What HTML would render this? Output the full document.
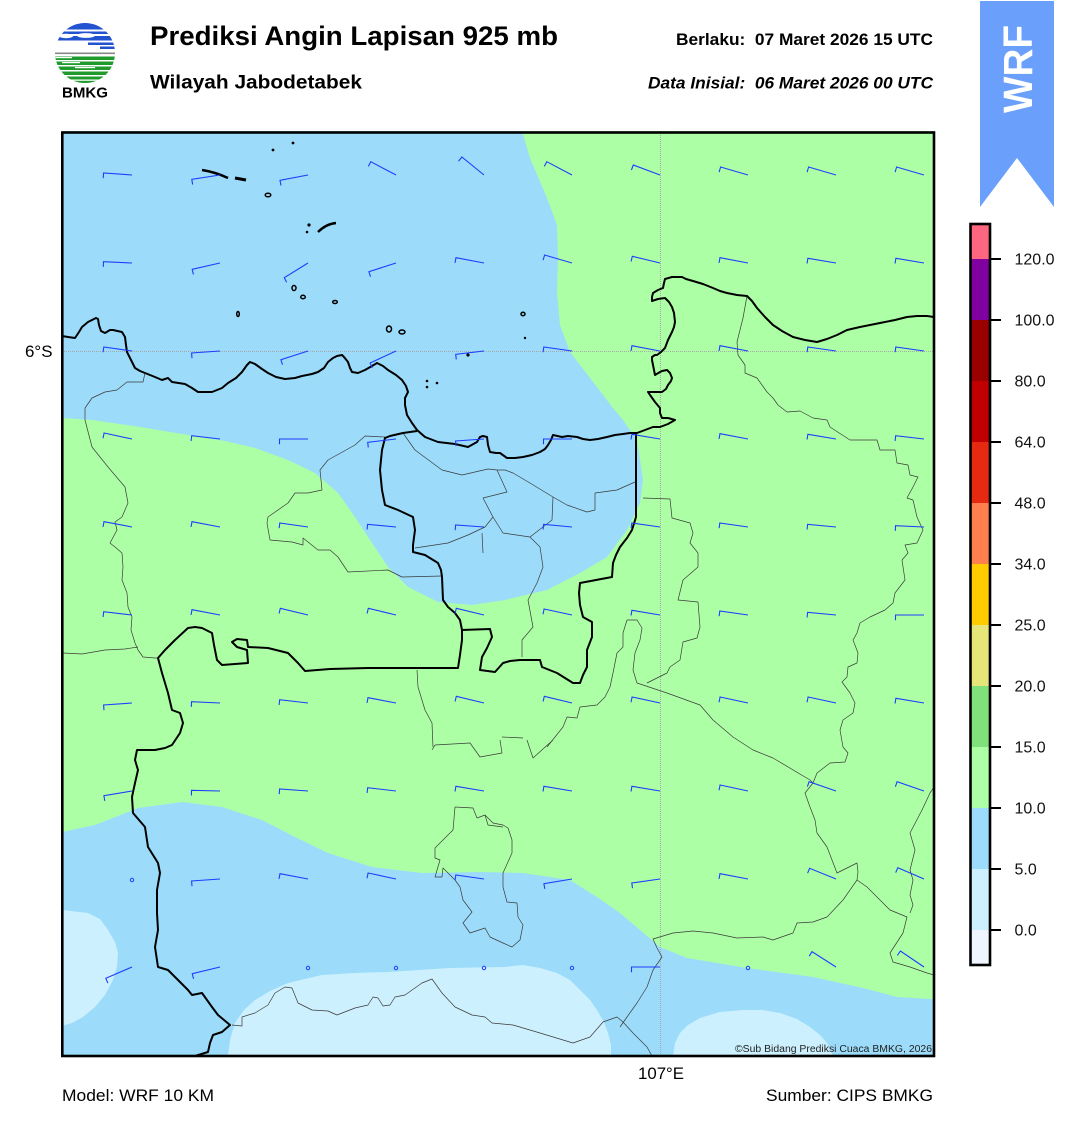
<!DOCTYPE html>
<html><head><meta charset="utf-8"><style>
html,body{margin:0;padding:0;background:#fff;}
svg{display:block;font-family:"Liberation Sans",Arial,sans-serif;}
</style></head><body>
<svg width="1081" height="1128" viewBox="0 0 1081 1128" xmlns="http://www.w3.org/2000/svg">
<rect width="1081" height="1128" fill="#fff"/>
<defs>
<clipPath id="lc"><circle cx="85" cy="53" r="30"/></clipPath>
<clipPath id="mc"><rect x="62" y="131" width="872" height="925"/></clipPath>
</defs>
<!-- Logo -->
<g clip-path="url(#lc)">
<rect x="50" y="20" width="70" height="9.5" fill="#2152d0"/>
<rect x="50" y="31.5" width="70" height="2.5" fill="#2152d0"/>
<rect x="50" y="36" width="70" height="4.5" fill="#2152d0"/>
<ellipse cx="66" cy="36" rx="7" ry="2.2" fill="#fff"/>
<ellipse cx="86" cy="35.5" rx="9" ry="2.4" fill="#fff"/>
<rect x="88" y="42.5" width="30" height="2.5" fill="#2152d0"/>
<rect x="100" y="46.5" width="20" height="2.5" fill="#2152d0"/>
<rect x="50" y="56.5" width="70" height="3.5" fill="#1f9a2c"/>
<rect x="50" y="61.5" width="70" height="3.5" fill="#1f9a2c"/>
<rect x="50" y="66.5" width="70" height="3.5" fill="#1f9a2c"/>
<rect x="50" y="71.5" width="70" height="3.5" fill="#1f9a2c"/>
<rect x="50" y="76.5" width="70" height="3" fill="#1f9a2c"/>
<rect x="50" y="80.8" width="70" height="3" fill="#1f9a2c"/>
<rect x="50" y="57" width="22" height="1.2" fill="#fff"/>
<rect x="62" y="62" width="18" height="1.2" fill="#fff"/>
<rect x="75" y="67" width="20" height="1.2" fill="#fff"/>
</g>
<rect x="55" y="52.5" width="60" height="1.6" fill="#888"/>
<text x="62" y="97.5" font-size="15" font-weight="bold" textLength="46" lengthAdjust="spacingAndGlyphs">BMKG</text>

<!-- Header texts -->
<text x="150" y="45" font-size="26.5" font-weight="bold" textLength="408" lengthAdjust="spacingAndGlyphs">Prediksi Angin Lapisan 925 mb</text>
<text x="150" y="88.3" font-size="19.5" font-weight="bold" textLength="212" lengthAdjust="spacingAndGlyphs">Wilayah Jabodetabek</text>
<text x="676" y="45" font-size="17" font-weight="bold" textLength="257" lengthAdjust="spacingAndGlyphs">Berlaku:&#160; 07 Maret 2026 15 UTC</text>
<text x="648" y="88.3" font-size="17" font-weight="bold" font-style="italic" textLength="285" lengthAdjust="spacingAndGlyphs">Data Inisial:&#160; 06 Maret 2026 00 UTC</text>

<!-- WRF banner -->
<polygon points="980,1 1054,1 1054,207 1017,158 980,207" fill="#6aa0fc"/>
<text transform="translate(1032,113) rotate(-90)" font-size="41" font-weight="bold" fill="#fff" textLength="88" lengthAdjust="spacingAndGlyphs">WRF</text>

<!-- Map -->
<g clip-path="url(#mc)">
<rect x="62" y="131" width="872" height="925" fill="#9cdcfa"/>
<polygon fill="#adffa5" points="522,131 934,131 934,999 930,999 897,997 863,988 813,977 747,968 687,958 660,947 640,930 620,913 597,897 570,880 523,873 480,872 422,873 372,867 328,853 295,837 262,820 222,807 182,802 138,808 95,825 62,832 62,418 92,420 140,427 188,435 225,441 255,448 288,460 315,473 338,493 355,517 372,543 388,567 408,587 438,602 472,605 505,600 547,590 580,573 607,557 627,530 640,503 643,480 637,440 623,420 613,408 590,378 570,352 560,325 557,292 558,258 557,225 547,198 530,158"/>
<polygon fill="#cdf0fe" points="62,910 88,913 100,919 108,930 115,942 118,953 117,967 113,980 105,995 95,1007 83,1017 72,1023 62,1026"/>
<polygon fill="#cdf0fe" points="228,1056 230,1040 235,1023 244,1010 255,1000 270,991 288,983 322,975 355,973 388,972 450,968 505,967 523,965 540,968 557,973 570,980 580,990 590,1000 597,1010 604,1022 608,1033 611,1045 611,1056"/>
<polygon fill="#cdf0fe" points="673,1056 675,1043 680,1033 688,1025 700,1018 720,1012 743,1010 762,1010 780,1013 797,1019 810,1027 820,1035 827,1043 833,1056"/>

<!-- grid lines -->
<line x1="62" y1="351.5" x2="934" y2="351.5" stroke="#a8a8a8" stroke-width="1" stroke-dasharray="1,1"/>
<line x1="660.5" y1="131" x2="660.5" y2="1056" stroke="#a8a8a8" stroke-width="1" stroke-dasharray="1,1"/>

<!-- thin admin boundaries -->
<g fill="none" stroke="#3a3a3a" stroke-width="0.7" stroke-linejoin="round">
<polyline points="145,373 143,382 127,382 117,390 105,392 92,398 85,408 85,420 92,447 108,467 125,487 128,503 122,517 115,522 117,530 110,543 115,547 122,553 123,567 122,580 127,593 128,607 132,617 131,630 135,643 138,650 143,657 155,658 158,658"/>
<polyline points="63,653 82,654 105,650 125,649 138,647"/>
<polyline points="385,437 365,436 355,445 328,460 320,470 322,490 308,493 295,493 288,503 268,517 267,523 270,540 292,542 303,545 303,538 308,542 318,550 330,550 338,557 348,572 388,570 402,577 442,576"/>
<polyline points="403,433 415,450 442,470 462,475 488,469 497,470 505,470 513,473 530,483 553,497 567,505 587,512 595,510 595,493 617,490 635,482"/>
<polyline points="497,470 507,492 483,498 493,517 485,527 468,535 448,543 415,548"/>
<polyline points="493,517 503,533 530,537 540,547 543,567 537,583 528,600 533,627 522,640 522,657"/>
<polyline points="553,497 552,520 530,537"/>
<polyline points="482,533 483,553"/>
<polyline points="643,498 670,499 672,518 690,523 693,533 690,543 698,553 698,567 683,580 678,600 698,602 700,627 697,638 683,642 680,660 670,667 667,673 647,683"/>
<polyline points="633,670 637,683 667,693 700,705 713,720 733,737 753,750 773,758 810,780 813,783"/>
<polyline points="747,296 743,318 737,342 738,355 745,365 745,373 757,378 767,392 773,398 778,405 787,412 800,411 813,418 827,420 830,427 850,440 877,440 880,450 895,450 897,463 908,465 910,475 918,477 913,487 907,498 913,500 917,517 923,530 917,543 905,545 908,553 902,560 905,580 895,593 893,603 885,610 870,617 860,623 857,633 853,640 858,653 857,663 848,667 847,677 842,682 850,693 855,703 853,713 843,720 840,730 843,747 848,753 845,762 830,763 817,773 813,783 805,793 810,807 815,820 817,833 827,847 837,873 857,863 858,872 857,880 843,900 827,917 813,922 797,923 793,933 773,940 763,937 737,938 713,933 693,931 673,933 653,939 657,948 662,957 653,970 647,987 637,1003 627,1017 620,1027"/>
<polyline points="857,880 867,887 890,910 907,917 903,933 890,953 893,962 910,967 927,973 934,975"/>
<polyline points="934,787 930,793 922,810 910,833 915,850 910,870 913,880 910,895 913,905 910,913"/>
<polyline points="232,1025 242,1026 242,1017 255,1013 268,1005 275,993 285,987 292,988 298,1003 312,1010 328,1011 337,1015 355,1008 368,1005 373,997 378,998 383,1006 390,1005 395,997 405,995 422,983 432,979 442,993 455,1007 472,1015 485,1017 492,1023 513,1025 540,1033 573,1043 590,1037 603,1022 617,1017 623,1022 633,1033 647,1047 652,1056"/>
<polyline points="432,750 435,745 470,743 480,757 502,753 500,740"/>
<polyline points="455,807 473,808 477,818 485,815 488,825 503,827"/>
<polyline points="455,807 453,830 435,848 435,858 440,860 435,877 442,877 443,868 455,880 460,887 463,900 472,912 463,923 470,933 485,928 490,937 503,943 512,947 520,940 523,925 518,917 517,903 507,902 503,887 503,873 512,853 512,840 508,828 503,825 493,823 485,815"/>
<polyline points="417,670 418,687 425,710 432,723 433,747"/>
<polyline points="627,620 637,620 642,628 640,640 635,653 633,670"/>
<polyline points="627,620 623,633 623,647 617,653 613,673 610,687 605,697 597,705 580,707 577,718 567,717 563,727 547,747"/>
<polyline points="502,737 523,738"/>
<polyline points="527,740 533,758 553,740"/>
</g>

<!-- thick coastline & provincial borders -->
<g fill="none" stroke="#000" stroke-width="2" stroke-linejoin="round">
<polyline points="62,336 68,337 75,338 79,332 82,327 88,322 92,320 96,318 98,319 99,325 101,331 105,333 110,330 113,330 122,332 125,337 126,345 127,352 131,360 135,368 140,371 145,373 155,377 162,380 168,378 172,382 185,384 192,388 198,392 212,392 222,388 228,383 236,378 242,372 247,365 250,362 255,364 262,369 268,373 276,377 285,379 295,378 302,376 312,374 318,372 324,368 328,362 333,358 337,356 342,355 344,357 348,362 350,368 352,372 358,373 365,370 372,366 377,363 383,366 388,370 396,375 402,380 406,386 408,392 405,398 405,405 407,415 412,423 417,430 425,437 438,442 455,444 468,447 477,442 480,437 483,436 487,437 488,445 490,452 496,453 500,453 507,458 515,458 523,457 532,455 540,452 545,449 548,445 551,440 553,435 562,437 568,436 577,437 583,439 590,440 598,439 607,437 615,435 623,434 630,433 637,433 645,430 653,427 660,427 668,424 675,420 668,418 662,418 660,413 660,408 655,402 650,395 648,392 655,392 662,392 666,389 668,385 671,381 672,378 670,373 667,370 662,371 660,372 655,375 654,370 653,365 652,360 652,357 655,355 657,355 661,352 665,348 668,340 672,332 674,327 675,322 674,313 672,307 669,302 665,298 658,299 652,301 652,297 653,293 658,290 663,288 664,283 665,279 672,277 682,277 686,279 693,281 703,284 713,288 720,291 727,293 737,295 747,296 752,301 757,308 765,317 773,325 782,331 793,337 805,340 817,342 827,339 837,335 847,330 860,327 870,325 880,323 895,320 907,317 917,316 927,316 934,317"/>
<polyline points="417,431 403,433 390,436 385,438 382,450 380,470 382,490 385,505 398,510 413,517 415,530 413,545 413,552 425,555 438,563 441,570 442,577 443,600 448,607 455,613 460,620 462,630"/>
<polyline points="462,630 490,629 492,637 487,648 482,657 480,670 495,672 503,663 510,661 520,660 540,660 542,667 557,673 573,683 580,683 583,675 587,667 587,650 592,637 592,622 583,617 580,605 579,593 580,583 596,580 612,577 613,563 616,555 620,547 627,538 632,530 636,517 636,433"/>
<polyline points="462,630 462,640 460,655 458,668 430,668 400,668 368,668 330,669 305,671 298,663 288,653 268,648 248,647 247,640 237,639 232,642 237,647 247,650 248,663 222,665 217,660 214,645 212,633 202,628 195,627 188,628 175,640 165,650 158,658 162,673 168,693 172,710 180,713 183,723 180,733 172,745 165,748 155,750 137,750 135,760 138,770 135,783 132,797 133,813 145,827 148,847 158,863 160,873 157,890 157,913 158,930 155,947 158,967 168,970 178,980 188,990 192,995 202,993 212,1007 218,1015 230,1025 222,1032 213,1035 210,1043 208,1052 195,1056"/>
</g>

<!-- islands -->
<g fill="none" stroke="#000" stroke-width="1.5">
<ellipse cx="268" cy="195" rx="2.8" ry="1.8"/>
<ellipse cx="294" cy="288" rx="2" ry="2.5"/>
<ellipse cx="303" cy="297" rx="2.3" ry="1.7"/>
<ellipse cx="335" cy="302" rx="2.3" ry="1.5"/>
<ellipse cx="238" cy="314" rx="1.3" ry="2.5"/>
<ellipse cx="389" cy="329" rx="2.5" ry="3"/>
<ellipse cx="402" cy="332" rx="3" ry="2"/>
<ellipse cx="523" cy="314" rx="2" ry="1.7"/>
<path d="M202 170 Q215 172 228 178" stroke-width="2.6"/>
<path d="M235 178 L246 180" stroke-width="3"/>
<path d="M318 232 Q326 224 336 223" stroke-width="2.4"/>
</g>
<g fill="#000">
<circle cx="273" cy="150" r="1.4"/><circle cx="293" cy="143" r="1.4"/>
<circle cx="309" cy="225" r="1.6"/><circle cx="307" cy="232" r="1.3"/>
<circle cx="468" cy="355" r="1.6"/><circle cx="427" cy="381" r="1.3"/>
<circle cx="427" cy="387" r="1.3"/><circle cx="437" cy="383" r="1.3"/>
<circle cx="525" cy="338" r="1.2"/>
</g>

<!-- wind barbs -->
<path fill="none" stroke="#1f3cff" stroke-width="1.1" d="
M132 175L103.6 173L103.2 178.2 M220 175L191.8 179.3L192.6 184.5 M308 175L280 180.3L281 185.5 M396 175L370.8 161.7L368.3 166.4 M484 175L461.9 157L458.6 161.1 M572 175L546.8 161.7L544.3 166.4 M660 175L633.3 165L631.4 170 M748 175L720.6 167L719.1 172.1 M836 175L808.6 167L807.1 172.1 M924 175L896.6 167L895.1 172.1
M132 263L103.5 261.7L103.3 266.9 M220 263L192.2 269.3L193.4 274.5 M308 263L284.3 277.7L286.6 282.3 M396 263L368.9 271.7L370.5 276.7 M484 263L456 257.7L455 262.9 M572 263L544.6 255L543.1 260.1 M660 263L632.3 256.3L631.1 261.5 M748 263L720 257.7L719 262.9 M836 263L807.9 258.3L807 263.5 M924 263L895.9 258.3L895 263.5
M132 351L103.8 347L103.1 352.2 M220 351L191.6 353L192 358.2 M308 351L280.9 359.7L282.5 364.7 M396 351L370.1 363L372.3 367.8 M484 351L455.7 354.3L456.3 359.5 M572 351L543.8 347L543.1 352.2 M660 351L632 345.7L631 350.9 M748 351L720 345.7L719 350.9 M836 351L807.8 347L807.1 352.2 M924 351L895.8 347L895.1 352.2
M132 439L104.1 433L103 438.2 M220 439L191.7 435.7L191.1 440.9 M308 439L279.5 439L279.5 444.3 M396 439L367.7 442.3L368.3 447.5 M484 439L455.6 441L456 446.2 M572 439L543.5 439L543.5 444.3 M660 439L631.9 434.3L631 439.5 M748 439L720 433.7L719 438.9 M836 439L807.9 434.3L807 439.5 M924 439L895.7 435.7L895.1 440.9
M132 527L104 521.7L103 526.9 M220 527L192 521.7L191 526.9 M308 527L279.8 523L279.1 528.2 M396 527L367.6 524.3L367.1 529.5 M484 527L455.6 525L455.2 530.2 M572 527L543.6 524.3L543.1 529.5 M660 527L631.8 523L631.1 528.2 M748 527L719.8 523L719.1 528.2 M836 527L807.6 524.3L807.1 529.5 M924 527L895.5 525.7L895.3 530.9
M132 615L103.7 611.7L103.1 616.9 M220 615L192 609.7L191 614.9 M308 615L280.3 608.3L279.1 613.5 M396 615L368.3 608.3L367.1 613.5 M484 615L456.3 608.3L455.1 613.5 M572 615L544.1 609L543 614.2 M660 615L631.9 610.3L631 615.5 M748 615L719.8 611L719.1 616.2 M836 615L807.6 612.3L807.1 617.5 M924 615L895.5 615L895.5 620.3
M132 703L103.6 705L104 710.2 M220 703L191.5 701.7L191.3 706.9 M308 703L279.7 699.7L279.1 704.9 M396 703L368 697.7L367 702.9 M484 703L456.3 696.3L455.1 701.5 M572 703L544.3 696.3L543.1 701.5 M660 703L632.1 697L631 702.2 M748 703L720.1 697L719 702.2 M836 703L808.1 697L807 702.2 M924 703L895.9 698.3L895 703.5
M132 791L103.9 795.7L104.8 800.9 M220 791L191.5 790.3L191.4 795.5 M308 791L279.6 789L279.2 794.2 M396 791L367.7 787.7L367.1 792.9 M484 791L455.9 786.3L455 791.5 M572 791L543.9 786.3L543 791.5 M660 791L631.9 786.3L631 791.5 M748 791L720.1 785L719 790.2 M836 791L809.1 781.7L807.4 786.7 M924 791L897.1 781.7L895.4 786.7
M220 879L191.6 881L192 886.2 M308 879L280 873.7L279 878.9 M396 879L368.1 873L367 878.2 M484 879L455.8 875L455.1 880.2 M572 879L543.9 883.7L544.8 888.9 M660 879L631.8 883L632.5 888.2 M748 879L720 873.7L719 878.9 M836 879L809.6 868.3L807.6 873.2 M924 879L897.8 867.7L895.7 872.6
M132 967L105.8 978.3L107.9 983.2 M220 967L192.3 973.7L193.5 978.9 M660 967L631.5 967L631.5 972.3 M836 967L812 951.7L809.2 956.2 M924 967L900.4 951L897.4 955.4"/>
<g fill="none" stroke="#1f3cff" stroke-width="1">
<circle cx="132" cy="880" r="1.7"/><circle cx="308" cy="968" r="1.7"/><circle cx="396" cy="968" r="1.7"/>
<circle cx="484" cy="968" r="1.7"/><circle cx="572" cy="968" r="1.7"/><circle cx="748" cy="968" r="1.7"/>
</g>
<text x="735" y="1052" font-size="10" fill="#222" textLength="197" lengthAdjust="spacingAndGlyphs">©Sub Bidang Prediksi Cuaca BMKG, 2026</text>
</g>
<rect x="62.3" y="132.5" width="871.7" height="923.5" fill="none" stroke="#000" stroke-width="2.6"/>

<!-- axis labels -->
<text x="25" y="357" font-size="17" textLength="27.5" lengthAdjust="spacingAndGlyphs">6°S</text>
<text x="638" y="1079" font-size="17" textLength="46" lengthAdjust="spacingAndGlyphs">107°E</text>
<text x="62" y="1101" font-size="16.5" textLength="152" lengthAdjust="spacingAndGlyphs">Model: WRF 10 KM</text>
<text x="766" y="1101" font-size="16.5" textLength="167" lengthAdjust="spacingAndGlyphs">Sumber: CIPS BMKG</text>

<!-- Colorbar -->
<rect x="971" y="224" width="18" height="35" fill="#ff6680"/>
<rect x="971" y="259" width="18" height="61" fill="#8000a0"/>
<rect x="971" y="320" width="18" height="61" fill="#990000"/>
<rect x="971" y="381" width="18" height="61" fill="#c00000"/>
<rect x="971" y="442" width="18" height="61" fill="#e62a12"/>
<rect x="971" y="503" width="18" height="61" fill="#ff7f4f"/>
<rect x="971" y="564" width="18" height="61" fill="#ffcc00"/>
<rect x="971" y="625" width="18" height="61" fill="#e6e678"/>
<rect x="971" y="686" width="18" height="61" fill="#80e07a"/>
<rect x="971" y="747" width="18" height="61" fill="#adffa5"/>
<rect x="971" y="808" width="18" height="61" fill="#9cdcfa"/>
<rect x="971" y="869" width="18" height="61" fill="#cdf0fe"/>
<rect x="971" y="930" width="18" height="35" fill="#eef5ff"/>
<rect x="970.5" y="224" width="19.5" height="741" fill="none" stroke="#000" stroke-width="2.6"/>
<g stroke="#000" stroke-width="2">
<line x1="990" y1="259" x2="1001" y2="259"/><line x1="990" y1="320" x2="1001" y2="320"/>
<line x1="990" y1="381" x2="1001" y2="381"/><line x1="990" y1="442" x2="1001" y2="442"/>
<line x1="990" y1="503" x2="1001" y2="503"/><line x1="990" y1="564" x2="1001" y2="564"/>
<line x1="990" y1="625" x2="1001" y2="625"/><line x1="990" y1="686" x2="1001" y2="686"/>
<line x1="990" y1="747" x2="1001" y2="747"/><line x1="990" y1="808" x2="1001" y2="808"/>
<line x1="990" y1="869" x2="1001" y2="869"/><line x1="990" y1="930" x2="1001" y2="930"/>
</g>
<g font-size="16" fill="#111">
<text x="1014.5" y="264.7">120.0</text>
<text x="1014.5" y="325.7">100.0</text>
<text x="1014.5" y="386.7">80.0</text>
<text x="1014.5" y="447.7">64.0</text>
<text x="1014.5" y="508.7">48.0</text>
<text x="1014.5" y="569.7">34.0</text>
<text x="1014.5" y="630.7">25.0</text>
<text x="1014.5" y="691.7">20.0</text>
<text x="1014.5" y="752.7">15.0</text>
<text x="1014.5" y="813.7">10.0</text>
<text x="1014.5" y="874.7">5.0</text>
<text x="1014.5" y="935.7">0.0</text>
</g>
</svg>
</body></html>
